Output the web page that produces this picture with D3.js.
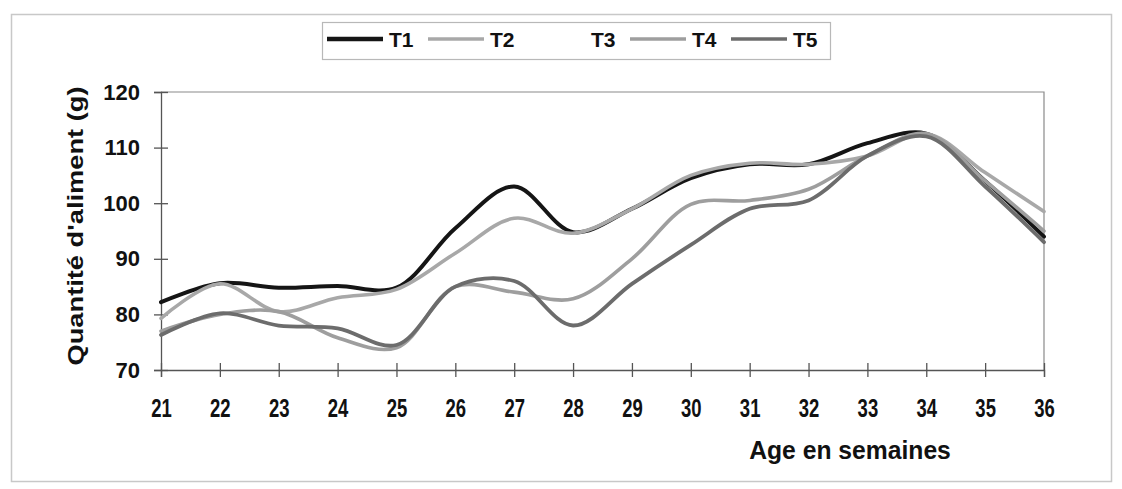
<!DOCTYPE html>
<html>
<head>
<meta charset="utf-8">
<script src="https://cdn.jsdelivr.net/npm/d3@7"></script>
<style>
  body { margin: 0; background: #fff; }
  text { font-family: "Liberation Sans", Arial, sans-serif; font-weight: bold; fill: #111; }
</style>
</head>
<body>
<svg class="root"></svg>
<script>
// weeks and feed quantities (g)
var weeks = [21, 22, 23, 24, 25, 26, 27, 28, 29, 30, 31, 32, 33, 34, 35, 36];
var t1 = [82.2, 85.6, 84.8, 85.1, 84.8, 95.5, 103, 94.8, 99, 104.5, 107, 107, 110.8, 112.5, 104, 94];
var t2 = [79.3, 85.5, 80.5, 83, 84.5, 91, 97.3, 94.6, 99, 105, 107.2, 107, 108.5, 112.5, 105.5, 98.5];
var t4 = [77, 80, 80.5, 75.8, 74, 85, 84, 82.8, 90, 99.8, 100.5, 102.5, 108.5, 112.5, 104, 95];
var t5 = [76.3, 80.2, 78, 77.5, 74.5, 85, 86, 78, 85.5, 92.5, 99, 100.5, 108.5, 112, 103, 93];
var yTicks = [70, 80, 90, 100, 110, 120];
var legendNames = ["T1", "T2", "T3", "T4", "T5"];

var series = [
  {name: "T1", values: t1, color: "#151515", w: 4},
  {name: "T2", values: t2, color: "#a8a8a8", w: 3.6},
  {name: "T4", values: t4, color: "#9e9e9e", w: 3.6},
  {name: "T5", values: t5, color: "#6c6c6c", w: 3.8}
];
var legendColors = {T1: "#151515", T2: "#a8a8a8", T3: "#ffffff", T4: "#9e9e9e", T5: "#6c6c6c"};

var W = 1122, H = 489;
var svg = d3.select(".root").attr("width", W).attr("height", H);

// outer frame
svg.append("rect")
  .attr("x", 11.5).attr("y", 14.5).attr("width", 1100).attr("height", 467)
  .attr("fill", "none").attr("stroke", "#c8c8c8").attr("stroke-width", 1.5);

var x = d3.scaleLinear().domain([21, 36]).range([161, 1044]);
var y = d3.scaleLinear().domain([70, 120]).range([370, 92]);

// plot frame (top / right)
svg.append("path")
  .attr("d", "M" + x(21) + "," + y(120) + "H" + x(36) + "V" + y(70))
  .attr("fill", "none").attr("stroke", "#8a8a8a").attr("stroke-width", 1.2);

var yAxis = svg.append("g")
  .attr("transform", "translate(" + x(21) + ",0)")
  .call(d3.axisLeft(y).tickValues(yTicks).tickSize(7).tickPadding(14));
yAxis.selectAll(".tick line").attr("x2", -7).attr("x1", 7);
yAxis.selectAll("path, line").attr("stroke", "#555").attr("stroke-width", 1.3);
yAxis.selectAll("text").style("font-size", "22px").attr("fill", "#111");

var xAxis = svg.append("g")
  .attr("transform", "translate(0," + y(70) + ")")
  .call(d3.axisBottom(x).tickValues(weeks).tickSize(7).tickFormat(d3.format("d")));
xAxis.selectAll(".tick line").attr("y1", -7).attr("y2", 7);
xAxis.selectAll("path, line").attr("stroke", "#555").attr("stroke-width", 1.3);
xAxis.selectAll("text")
  .style("font-size", "25px").attr("fill", "#111")
  .attr("y", 0).attr("dy", 0)
  .attr("transform", "translate(0,47) scale(0.74,1)");

// axis titles
svg.append("text")
  .attr("text-anchor", "middle")
  .attr("transform", "translate(" + 83 + "," + 226 + ") rotate(-90) scale(1.24,1)")
  .style("font-size", "22px")
  .text("Quantité d'aliment (g)");

svg.append("text")
  .attr("text-anchor", "middle")
  .attr("transform", "translate(850,459) scale(0.95,1)")
  .style("font-size", "26px")
  .text("Age en semaines");

// lines
var line = d3.line()
  .x(function(d, i) { return x(weeks[i]); })
  .y(function(d) { return y(d); })
  .curve(d3.curveCatmullRom.alpha(0.5));

svg.selectAll(".serie")
    .data(series)
  .enter().append("path")
    .attr("class", "serie")
    .attr("d", function(d) { return line(d.values); })
    .attr("fill", "none")
    .attr("stroke", function(d) { return d.color; })
    .attr("stroke-width", function(d) { return d.w; })
    .attr("stroke-linecap", "round");

// legend
var lg = svg.append("g").attr("transform", "translate(322,22)");
lg.append("rect")
  .attr("x", 0.5).attr("y", 0.5).attr("width", 508).attr("height", 37)
  .attr("fill", "#fff").attr("stroke", "#b8b8b8").attr("stroke-width", 1.2);

var item = lg.selectAll(".item")
    .data(legendNames)
  .enter().append("g")
    .attr("class", "item")
    .attr("transform", function(d, i) { return "translate(" + (5 + i * 101) + ",0)"; });
item.append("line")
  .attr("x1", 0).attr("x2", 56).attr("y1", 17).attr("y2", 17)
  .attr("stroke", function(d) { return legendColors[d]; })
  .attr("stroke-width", function(d) { return d === "T1" ? 4.5 : 3.5; });
item.append("text")
  .attr("x", 62).attr("y", 25)
  .style("font-size", "21px")
  .text(function(d) { return d; });
</script>
</body>
</html>
